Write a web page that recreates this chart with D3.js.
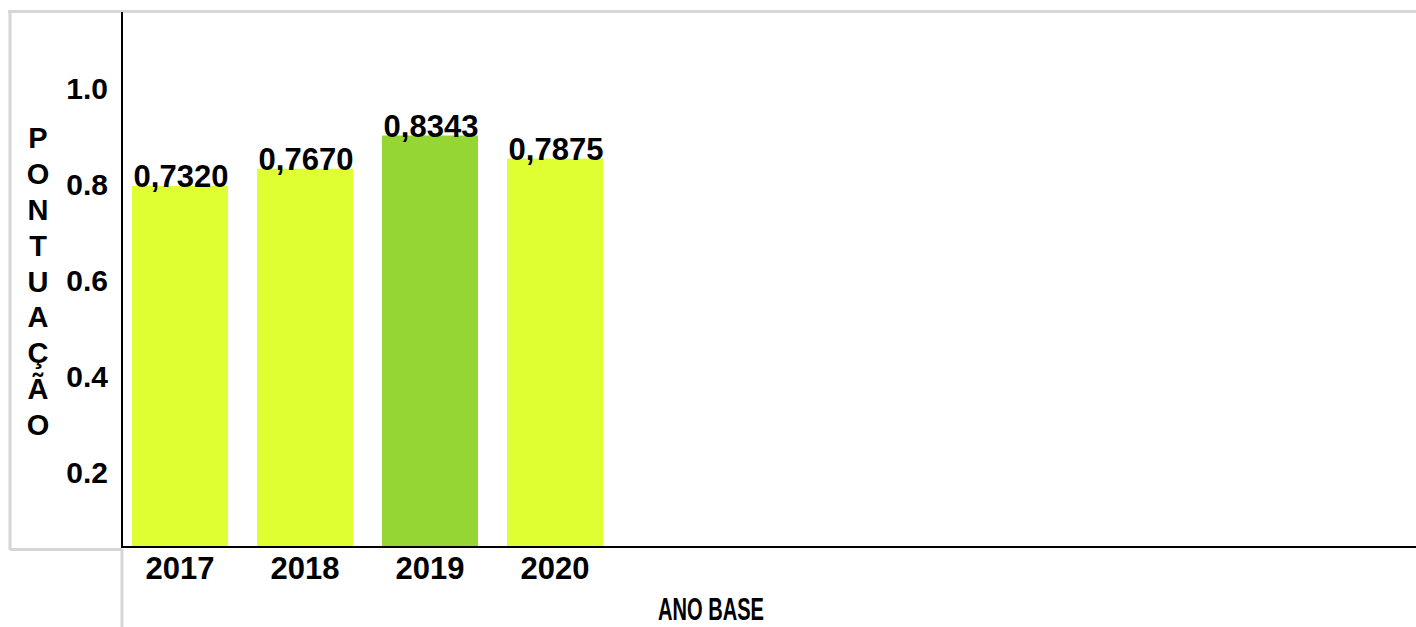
<!DOCTYPE html>
<html>
<head>
<meta charset="utf-8">
<script src="https://cdn.jsdelivr.net/npm/d3@7"></script>
<style>
  html, body { margin: 0; padding: 0; background: #fff; }
  svg { display: block; }
  text { font-family: "Liberation Sans", Arial, sans-serif; font-weight: bold; fill: #000; }
</style>
</head>
<body>
<svg id="chart" width="1416" height="627"></svg>
<script>
// ---- data ----
const years = ["2017", "2018", "2019", "2020"];
const scores = [0.7320, 0.7670, 0.8343, 0.7875];
const scoreLabels = ["0,7320", "0,7670", "0,8343", "0,7875"];
const barColors = ["#dfff33", "#dfff33", "#95d634", "#dfff33"];
const tickValues = [0.2, 0.4, 0.6, 0.8, 1.0];
const yTitle = "PONTUAÇÃO";
const xTitle = "ANO BASE";

const W = 1416, H = 627;
const svg = d3.select("#chart");

// frame (gray table-like borders)
const gray = "#d6d6d6";
svg.append("line").attr("x1", 8).attr("x2", W).attr("y1", 11.5).attr("y2", 11.5)
  .attr("stroke", gray).attr("stroke-width", 3);
svg.append("line").attr("x1", 10).attr("x2", 10).attr("y1", 10).attr("y2", 550)
  .attr("stroke", gray).attr("stroke-width", 3);
svg.append("line").attr("x1", 10).attr("x2", 122).attr("y1", 549.5).attr("y2", 549.5)
  .attr("stroke", gray).attr("stroke-width", 3);
svg.append("line").attr("x1", 122).attr("x2", 122).attr("y1", 549).attr("y2", H)
  .attr("stroke", gray).attr("stroke-width", 3);

// scales
const x = d3.scaleBand().domain(years).range([132, 603]).paddingInner(0.232).paddingOuter(0);
const y = d3.scaleLinear().domain([0, 1]).range([546, 54]);
const tickScale = d3.scaleLinear().domain([0, 1]).range([568, 88]);

// bars
svg.append("g").selectAll("rect").data(years).join("rect")
  .attr("x", d => x(d))
  .attr("width", x.bandwidth())
  .attr("y", (d, i) => y(scores[i]))
  .attr("height", (d, i) => y(0) - y(scores[i]))
  .attr("fill", (d, i) => barColors[i]);

// value labels
svg.append("g").selectAll("text").data(years).join("text")
  .attr("x", d => x(d) + x.bandwidth() / 2 + 1)
  .attr("y", (d, i) => y(scores[i]) + 1)
  .attr("text-anchor", "middle")
  .attr("font-size", 31)
  .text((d, i) => scoreLabels[i]);

// axes lines
svg.append("line").attr("x1", 122).attr("x2", 122).attr("y1", 12).attr("y2", 548)
  .attr("stroke", "#000").attr("stroke-width", 2);
svg.append("line").attr("x1", 121).attr("x2", W).attr("y1", 547).attr("y2", 547)
  .attr("stroke", "#000").attr("stroke-width", 2);

// y tick labels
const yAxis = svg.append("g").attr("transform", "translate(108,0)")
  .call(d3.axisLeft(tickScale).tickValues(tickValues).tickFormat(d3.format(".1f")).tickSize(0).tickPadding(0));
yAxis.select(".domain").remove();
yAxis.selectAll("text").attr("font-size", 30).attr("font-family", null).attr("font-weight", null)
  .attr("fill", "#000").attr("dy", "0.36em");

// x tick labels
const xAxis = svg.append("g").attr("transform", "translate(0,556)")
  .call(d3.axisBottom(x).tickSize(0).tickPadding(0));
xAxis.select(".domain").remove();
xAxis.selectAll("text").attr("font-size", 31).attr("font-family", null).attr("font-weight", null)
  .attr("fill", "#000").attr("dy", "0.74em");

// vertical y title (stacked letters)
svg.append("g").selectAll("text").data(Array.from(yTitle)).join("text")
  .attr("x", 38)
  .attr("y", (d, i) => 137.5 + i * 35.9)
  .attr("dy", "0.36em")
  .attr("text-anchor", "middle")
  .attr("font-size", 29)
  .text(d => d);

// x title
svg.append("text")
  .attr("x", 658).attr("y", 620)
  .attr("font-size", 31)
  .attr("textLength", 106)
  .attr("lengthAdjust", "spacingAndGlyphs")
  .text(xTitle);
</script>
</body>
</html>
